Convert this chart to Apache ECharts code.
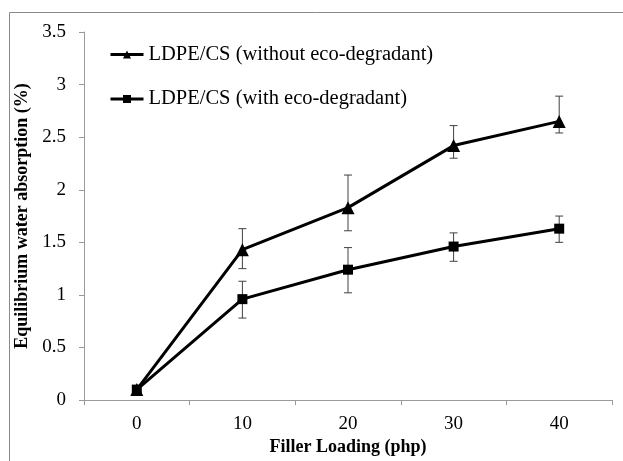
<!DOCTYPE html>
<html>
<head>
<meta charset="utf-8">
<script src="https://cdn.jsdelivr.net/npm/echarts@6/dist/echarts.min.js"></script>
<style>
html,body{margin:0;padding:0;background:#fff;}
#chart{width:623px;height:461px;}
</style>
</head>
<body>
<div id="chart"></div>
<script>
// Data
var categories = ['0', '10', '20', '30', '40'];
var withoutEco = [0.10, 1.43, 1.83, 2.42, 2.65];
var withoutEcoHigh = [null, 1.63, 2.14, 2.61, 2.89];
var withoutEcoLow = [null, 1.25, 1.61, 2.30, 2.54];
var withEco = [0.10, 0.96, 1.24, 1.46, 1.63];
var withEcoHigh = [null, 1.13, 1.45, 1.59, 1.75];
var withEcoLow = [null, 0.78, 1.02, 1.32, 1.50];
var seriesNames = ['LDPE/CS (without eco-degradant)', 'LDPE/CS (with eco-degradant)'];

var FONT = '"Liberation Serif", "Times New Roman", serif';

function errData(hi, lo) {
  var out = [];
  for (var i = 0; i < categories.length; i++) {
    if (hi[i] != null && lo[i] != null) out.push([i, lo[i], hi[i]]);
  }
  return out;
}

function errRender(params, api) {
  var x = api.value(0);
  var lo = api.coord([x, api.value(1)]);
  var hi = api.coord([x, api.value(2)]);
  var half = 4;
  var style = { stroke: '#404040', lineWidth: 1, fill: null };
  return {
    type: 'group',
    children: [
      { type: 'line', shape: { x1: hi[0], y1: hi[1], x2: lo[0], y2: lo[1] }, style: style },
      { type: 'line', shape: { x1: hi[0] - half, y1: hi[1], x2: hi[0] + half, y2: hi[1] }, style: style },
      { type: 'line', shape: { x1: lo[0] - half, y1: lo[1], x2: lo[0] + half, y2: lo[1] }, style: style }
    ]
  };
}

var chart = echarts.init(document.getElementById('chart'), null, { renderer: 'canvas' });
chart.setOption({
  backgroundColor: '#fff',
  animation: false,
  graphic: [{
    type: 'rect',
    shape: { x: 9.5, y: 12.5, width: 700, height: 600 },
    style: { fill: null, stroke: '#8a8a8a', lineWidth: 1 },
    silent: true,
    z: -10
  }],
  grid: { left: 84, right: 11, top: 32, bottom: 56, containLabel: false },
  legend: {
    orient: 'vertical',
    left: 109,
    top: 44,
    padding: 0,
    itemGap: 23.5,
    itemWidth: 33,
    itemHeight: 10,
    data: seriesNames,
    lineStyle: { width: 3 },
    textStyle: { fontFamily: FONT, fontSize: 20.5, color: '#000' }
  },
  xAxis: {
    type: 'category',
    data: categories,
    boundaryGap: true,
    name: 'Filler Loading (php)',
    nameLocation: 'middle',
    nameGap: 30,
    nameTextStyle: { fontFamily: FONT, fontSize: 18, fontWeight: 'bold', color: '#000' },
    axisLine: { lineStyle: { color: '#9a9a9a', width: 1 } },
    axisTick: { show: true, length: 5, lineStyle: { color: '#9a9a9a' } },
    axisLabel: { fontFamily: FONT, fontSize: 19, color: '#000', margin: 14 },
    splitLine: { show: false }
  },
  yAxis: {
    type: 'value',
    min: 0,
    max: 3.5,
    interval: 0.5,
    name: 'Equilibrium water absorption (%)',
    nameLocation: 'middle',
    nameGap: 49,
    nameRotate: 90,
    nameTextStyle: { fontFamily: FONT, fontSize: 18, fontWeight: 'bold', color: '#000' },
    axisLine: { show: true, lineStyle: { color: '#9a9a9a', width: 1 } },
    axisTick: { show: true, length: 5, lineStyle: { color: '#9a9a9a' } },
    axisLabel: { fontFamily: FONT, fontSize: 19, color: '#000', margin: 18 },
    splitLine: { show: false }
  },
  series: [
    {
      name: seriesNames[0],
      type: 'line',
      data: withoutEco,
      symbol: 'triangle',
      symbolSize: 13,
      lineStyle: { color: '#000', width: 3 },
      itemStyle: { color: '#000' },
      z: 3
    },
    {
      name: seriesNames[1],
      type: 'line',
      data: withEco,
      symbol: 'rect',
      symbolSize: 10,
      lineStyle: { color: '#000', width: 3 },
      itemStyle: { color: '#000' },
      z: 4
    },
    {
      type: 'custom',
      renderItem: errRender,
      data: errData(withoutEcoHigh, withoutEcoLow),
      encode: { x: 0, y: [1, 2] },
      z: 2,
      silent: true
    },
    {
      type: 'custom',
      renderItem: errRender,
      data: errData(withEcoHigh, withEcoLow),
      encode: { x: 0, y: [1, 2] },
      z: 2,
      silent: true
    }
  ]
});
</script>
</body>
</html>
